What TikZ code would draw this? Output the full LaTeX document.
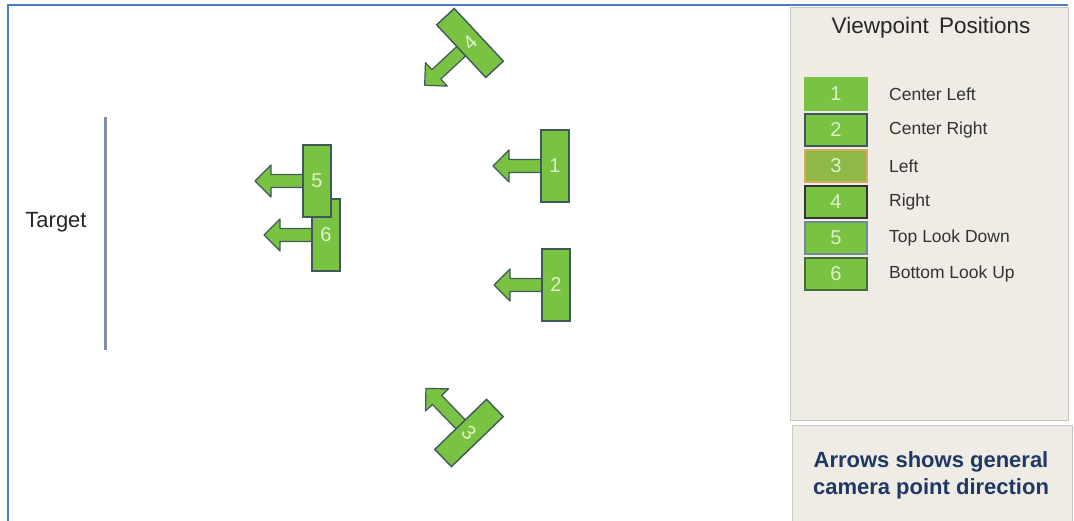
\documentclass[tikz,border=0pt]{standalone}
\usepackage{fontspec}
\setmainfont{Liberation Sans}
\usetikzlibrary{positioning}
\definecolor{frameblue}{RGB}{74,126,193}
\definecolor{camfill}{RGB}{122,194,66}
\definecolor{camline}{RGB}{62,88,92}
\definecolor{camtext}{RGB}{222,242,204}
\definecolor{targetline}{RGB}{128,142,166}
\definecolor{panelfill}{RGB}{238,236,229}
\definecolor{panelline}{RGB}{200,200,196}
\definecolor{notetext}{RGB}{31,56,100}
\definecolor{olivefill}{RGB}{142,184,72}
\definecolor{orangeline}{RGB}{214,168,96}
\definecolor{greyblue}{RGB}{110,140,150}
\definecolor{darkgreen}{RGB}{70,110,60}

\tikzset{
  cambox/.style={draw=camline,fill=camfill,line width=1.4pt},
  camarrow/.style={draw=camline,fill=camfill,line width=1.2pt,line join=round},
  camlabel/.style={text=camtext,font=\fontsize{20}{20}\selectfont},
  panel/.style={draw=panelline,fill=panelfill,line width=1pt},
  swatch/.style={minimum width=62pt,minimum height=32pt,line width=1.2pt,text=camtext,font=\fontsize{20}{20}\selectfont,inner sep=0pt},
  legendtext/.style={right,inner sep=0pt,font=\fontsize{17.5}{17.5}\selectfont,text=black!80},
}

\begin{document}
\begin{tikzpicture}[x=1pt,y=-1pt]
  \useasboundingbox (0,0) rectangle (1074,521);
  % frame
  \draw[frameblue,line width=2pt] (8,521) -- (8,5) -- (1068,5);

  % target
  \draw[targetline,line width=3pt] (105,117) -- (105,350);
  \node[font=\fontsize{22}{22}\selectfont,text=black!85] (target) at (56,222) {Target};

  % cameras: centre / rotation / number / half width
  \foreach \cx/\cy/\ang/\num/\hw in {326/235/0/6/14, 317/181/0/5/14, 555/166/0/1/14, 556/285/0/2/14, 470/43/43/4/12, 469/433/-46/3/12} {
    \begin{scope}[shift={(\cx,\cy)},rotate=\ang]
      \draw[camarrow] (0,-6.5) -- (-46,-6.5) -- (-46,-16) -- (-62,0) -- (-46,16) -- (-46,6.5) -- (0,6.5) -- cycle;
      \draw[cambox] (-\hw,-36) rectangle (\hw,36);
      \node[camlabel,rotate=\ang] (cam\num) at (0,0) {\num};
    \end{scope}
  }

  % legend
  \draw[panel] (790,8) rectangle (1068,420);
  \node[font=\fontsize{22.5}{22.5}\selectfont,text=black!85] (title) at (931,28) {Viewpoint\hspace{4pt} Positions};
  \foreach \n/\txt/\fc/\bc [count=\i] in {1/Center Left/camfill/camfill, 2/Center Right/camfill/camline, 3/Left/olivefill/orangeline, 4/Right/camfill/black!80, 5/Top Look Down/camfill/greyblue, 6/Bottom Look Up/camfill/darkgreen} {
    \node[swatch,fill=\fc,draw=\bc] (sw\n) at (836,58+36*\i) {\n};
    \node[legendtext] (lab\n) at (889,58+36*\i) {\txt};
  }

  % note
  \draw[panel] (792,425) rectangle (1072,521);
  \node[align=center,font=\bfseries\fontsize{22}{27}\selectfont,text=notetext] (note) at (931,475) {Arrows shows general\\camera point direction};
\end{tikzpicture}
\end{document}
